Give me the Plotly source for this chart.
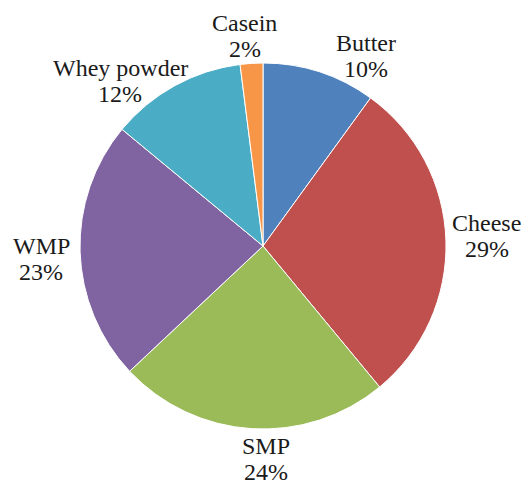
import math
import plotly.graph_objects as go

# Dairy product shares (percent), clockwise from 12 o'clock
products = ["Butter", "Cheese", "SMP", "WMP", "Whey powder", "Casein"]
shares = [10, 29, 24, 23, 12, 2]
colors = ["#4F81BD", "#C0504D", "#9BBB59", "#8064A2", "#4BACC6", "#F79646"]

W, H = 524, 485
cx, cy, r = 263, 246, 183  # pie centre and radius in pixels
label_radius = 215          # distance of label centres from the pie centre
line_gap = 13               # half the spacing between the two label lines
FONT = dict(family="'Times New Roman', 'Liberation Serif', 'DejaVu Serif', serif",
            size=24, color="#1a1a1a")

# best-fit style nudges (pixels) applied to the radial label positions
label_nudge = {
    "Butter": (37, 14),
    "Cheese": (9, -3),
    "SMP": (16, -2),
    "WMP": (-7, 6),
    "Whey powder": (-39, 23),
    "Casein": (-5, 5),
}

fig = go.Figure(
    go.Pie(
        labels=products,
        values=shares,
        sort=False,
        direction="clockwise",
        rotation=0,
        marker=dict(colors=colors, line=dict(color="white", width=1)),
        textinfo="none",
        hoverinfo="label+percent",
        showlegend=False,
        domain=dict(
            x=[(cx - r) / W, (cx + r) / W],
            y=[(H - cy - r) / H, (H - cy + r) / H],
        ),
    )
)

# place "name / percent" labels outside each slice at its mid-angle
total = sum(shares)
cum = 0
annotations = []
for name, v in zip(products, shares):
    mid = (cum + v / 2) / total * 2 * math.pi
    cum += v
    dx, dy = label_nudge[name]
    px = cx + label_radius * math.sin(mid) + dx
    py = cy - label_radius * math.cos(mid) + dy
    pct = f"{round(v / total * 100)}%"
    for text, off in ((name, -line_gap), (pct, line_gap)):
        annotations.append(
            dict(
                text=text,
                x=px / W,
                y=1 - (py + off) / H,
                xref="paper",
                yref="paper",
                xanchor="center",
                yanchor="middle",
                showarrow=False,
                font=FONT,
            )
        )

fig.update_layout(
    width=W,
    height=H,
    margin=dict(l=0, r=0, t=0, b=0),
    paper_bgcolor="white",
    plot_bgcolor="white",
    font=FONT,
    annotations=annotations,
)

fig.write_html("out.html")
